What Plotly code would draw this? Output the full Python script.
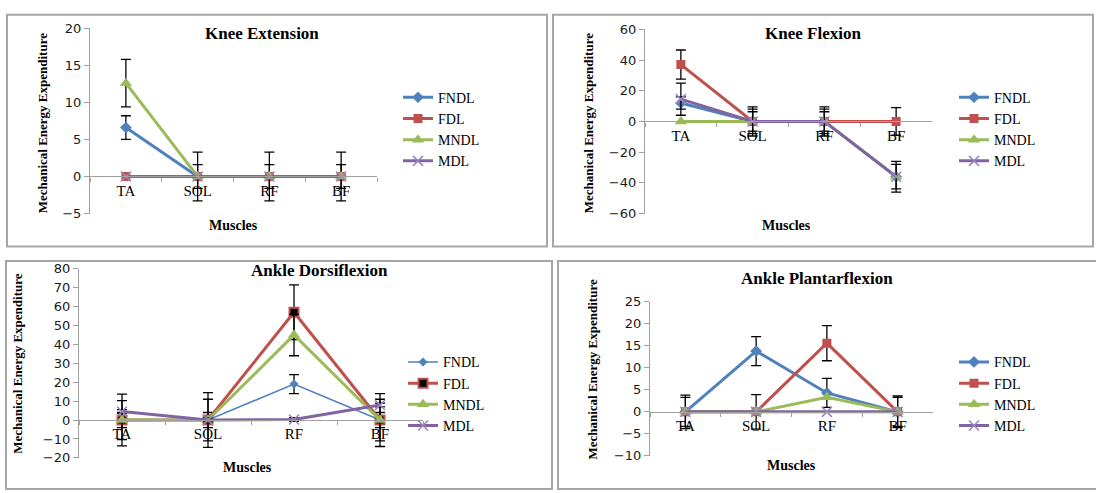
import plotly.graph_objects as go

W, H = 1096, 493

muscles = ["TA", "SOL", "RF", "BF"]
series_names = ["FNDL", "FDL", "MNDL", "MDL"]

# Knee Extension
ke_fndl = [6.6, 0, 0, 0]
ke_fdl = [0, 0, 0, 0]
ke_mndl = [12.6, 0, 0, 0]
ke_mdl = [0, 0, 0, 0]
ke_err_fndl = [1.6, 1.6, 1.6, 1.6]
ke_err_fdl = [0, 0, 0, 0]
ke_err_mndl = [3.2, 3.3, 3.3, 3.3]
ke_err_mdl = [0, 0, 0, 0]

# Knee Flexion
kf_fndl = [12, 0, 0, -36]
kf_fdl = [37, 0, 0, 0]
kf_mndl = [0, 0, 0, -36]
kf_mdl = [14.5, 0, 0, -36]
kf_err_fndl = [4, 6.3, 6.3, 8]
kf_err_fdl = [9.5, 9.5, 9.5, 9]
kf_err_mndl = [0, 0, 0, 0]
kf_err_mdl = [10.5, 8, 8, 10]

# Ankle Dorsiflexion
ad_fndl = [0, 0, 19, 0]
ad_fdl = [0, 0, 57, 0]
ad_mndl = [0, 0, 45, 0]
ad_mdl = [4.5, 0, 0.3, 8]
ad_err_fndl = [4, 4, 5, 4]
ad_err_fdl = [13.7, 14.5, 14.5, 14]
ad_err_mndl = [10.3, 11, 11, 11]
ad_err_mdl = [1, 1, 1, 1]

# Ankle Plantarflexion
ap_fndl = [0, 13.8, 4.3, 0]
ap_fdl = [0, 0, 15.6, 0]
ap_mndl = [0, 0, 3.3, 0]
ap_mdl = [0, 0, 0, 0]
ap_err_fndl = [3.3, 3.3, 3.3, 3.3]
ap_err_fdl = [3.8, 3.9, 4.0, 3.6]
ap_err_mndl = [0, 0, 0, 0]
ap_err_mdl = [0, 0, 0, 0]

panel_titles = ["Knee Extension", "Knee Flexion", "Ankle Dorsiflexion", "Ankle Plantarflexion"]
y_axis_title = "Mechanical Energy Expenditure"
x_axis_title = "Muscles"

panel_values = [
    [ke_fndl, ke_fdl, ke_mndl, ke_mdl],
    [kf_fndl, kf_fdl, kf_mndl, kf_mdl],
    [ad_fndl, ad_fdl, ad_mndl, ad_mdl],
    [ap_fndl, ap_fdl, ap_mndl, ap_mdl],
]
panel_errors = [
    [ke_err_fndl, ke_err_fdl, ke_err_mndl, ke_err_mdl],
    [kf_err_fndl, kf_err_fdl, kf_err_mndl, kf_err_mdl],
    [ad_err_fndl, ad_err_fdl, ad_err_mndl, ad_err_mdl],
    [ap_err_fndl, ap_err_fdl, ap_err_mndl, ap_err_mdl],
]
panel_ranges = [(-5, 20, 5), (-60, 60, 20), (-20, 80, 10), (-10, 25, 5)]

# ---------- layout geometry (pixels) ----------
geo = [
    dict(xd=(90, 377), yd=(22, 213), title=(262, 27), ytitle=(42, 120), xtitle=(233, 225),
         legend=(398, 77), box=(7, 8, 547, 247)),
    dict(xd=(645, 932), yd=(23, 213), title=(813, 27), ytitle=(588, 120), xtitle=(786, 225),
         legend=(954, 77), box=(553, 8, 1093, 247)),
    dict(xd=(79, 423), yd=(270, 465), title=(319, 272), ytitle=(18, 368), xtitle=(247, 475),
         legend=(403, 350), box=(6, 262, 552, 497)),
    dict(xd=(650, 933), yd=(304, 463), title=(817, 280), ytitle=(593, 374), xtitle=(791, 473),
         legend=(954, 350), box=(558, 262, 1100, 497)),
]


def fx(p):
    return p / W


def fy(p):
    return 1 - p / H


colors = ["#4F81BD", "#C0504D", "#9BBB59", "#8064A2"]
symbols = ["diamond", "square", "triangle-up", "x-thin-open"]

SERIF = "Liberation Serif, Times New Roman, serif"
SANS = "DejaVu Sans, Verdana, sans-serif"

fig = go.Figure()

for p in range(4):
    ax = "" if p == 0 else str(p + 1)
    leg = "legend" if p == 0 else "legend" + str(p + 1)
    for s in range(4):
        lw = 3
        msize = [9, 9, 11, 10][s]
        mcolor = colors[s]
        mline = dict(width=0)
        if s == 3:
            mcolor = "#9A85C4"
            mline = dict(width=1.5, color="#9A85C4")
        if p == 2 and s == 0:
            lw = 1.6
            msize = 7
        if p == 2 and s == 1:
            mcolor = "#000000"
            mline = dict(width=2, color="#C0504D")
        err = panel_errors[p][s]
        kw = {}
        if any(e > 0 for e in err):
            kw["error_y"] = dict(type="data", array=err, symmetric=True, visible=True,
                                 color="#000000", thickness=1.3, width=5)
        fig.add_trace(go.Scatter(
            x=muscles, y=panel_values[p][s], name=series_names[s],
            mode="lines+markers",
            line=dict(color=colors[s], width=lw),
            marker=dict(symbol=symbols[s], size=msize, color=mcolor, line=mline),
            xaxis="x" + ax, yaxis="y" + ax, legend=leg, **kw))

layout = dict(
    width=W, height=H, margin=dict(l=0, r=0, t=0, b=0),
    paper_bgcolor="white", plot_bgcolor="rgba(0,0,0,0)",
    showlegend=True,
)

annotations = []
shapes = []
for p in range(4):
    g = geo[p]
    ax = "" if p == 0 else str(p + 1)
    r0, r1, dt = panel_ranges[p]
    ybot, ytop = fy(g["yd"][1]), fy(g["yd"][0])
    zero_pos = ybot + (0 - r0) / (r1 - r0) * (ytop - ybot)
    layout["xaxis" + ax] = dict(
        domain=[fx(g["xd"][0]), fx(g["xd"][1])],
        anchor="free", position=zero_pos,
        type="category", categoryorder="array", categoryarray=muscles,
        range=[-0.5, 3.5],
        showline=True, linecolor="#A0A0A0", linewidth=1.2,
        ticks="outside", tickson="boundaries", ticklen=4, tickcolor="#A0A0A0",
        tickfont=dict(family=SERIF, size=15, color="#000000"),
        showgrid=False, zeroline=False,
    )
    layout["yaxis" + ax] = dict(
        domain=[ybot, ytop], anchor="x" + ax,
        range=[r0, r1], tick0=0, dtick=dt,
        showline=True, linecolor="#A0A0A0", linewidth=1.2,
        ticks="outside", ticklen=5, tickcolor="#A0A0A0",
        tickfont=dict(family=SANS, size=13, color="#1a1a1a"),
        showgrid=False, zeroline=False,
    )
    leg = "legend" if p == 0 else "legend" + str(p + 1)
    layout[leg] = dict(
        x=fx(g["legend"][0]), y=fy(g["legend"][1]), xanchor="left", yanchor="top",
        bgcolor="rgba(0,0,0,0)", borderwidth=0,
        font=dict(family=SERIF, size=14, color="#000000"),
        tracegroupgap=0,
    )
    annotations.append(dict(
        text="<b>" + panel_titles[p] + "</b>", x=fx(g["title"][0]), y=fy(g["title"][1]),
        xref="paper", yref="paper", showarrow=False, xanchor="center", yanchor="middle",
        font=dict(family=SERIF, size=17, color="#000000")))
    annotations.append(dict(
        text="<b>" + y_axis_title + "</b>", x=fx(g["ytitle"][0]), y=fy(g["ytitle"][1]),
        xref="paper", yref="paper", showarrow=False, xanchor="center", yanchor="middle",
        textangle=-90, font=dict(family=SERIF, size=13, color="#000000")))
    annotations.append(dict(
        text="<b>" + x_axis_title + "</b>", x=fx(g["xtitle"][0]), y=fy(g["xtitle"][1]),
        xref="paper", yref="paper", showarrow=False, xanchor="center", yanchor="middle",
        font=dict(family=SERIF, size=14, color="#000000")))
    bx = g["box"]
    shapes.append(dict(type="rect", xref="paper", yref="paper",
                       x0=fx(bx[0]), x1=fx(bx[2]), y0=fy(bx[3]), y1=fy(bx[1]),
                       line=dict(color="#A6A6A6", width=2)))

layout["annotations"] = annotations
layout["shapes"] = shapes
fig.update_layout(**layout)

fig.write_html("out.html", config={"displayModeBar": False},
               post_script="document.body.style.margin='0';document.body.style.overflow='hidden';")
